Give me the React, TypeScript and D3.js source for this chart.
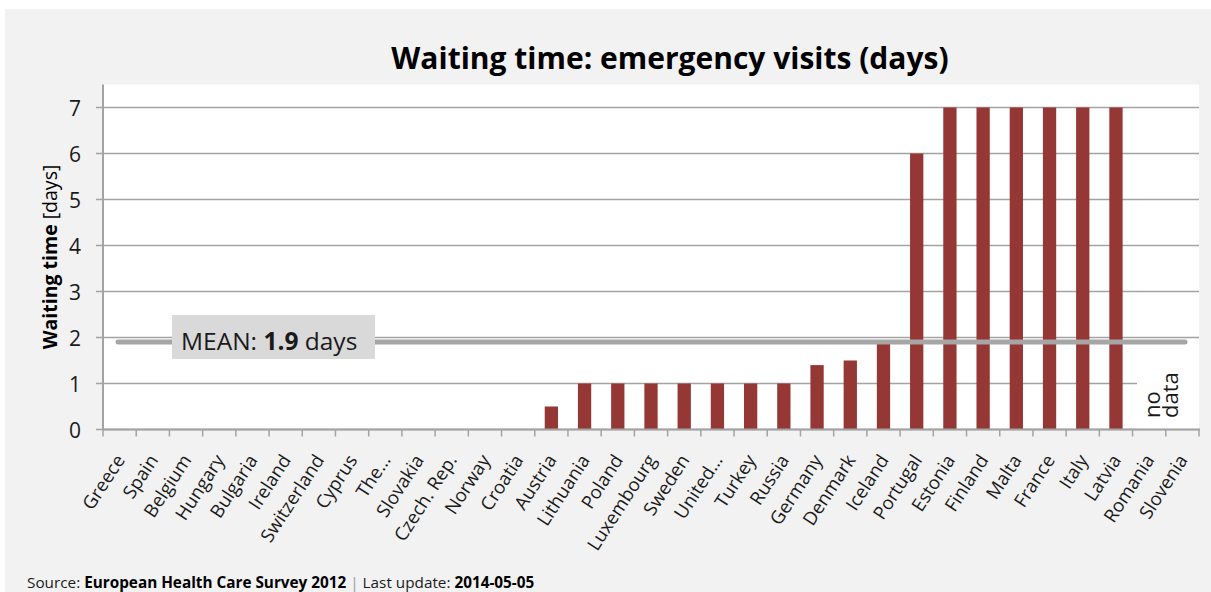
import React from "react";
import * as d3 from "d3";

const countries = [
  "Greece", "Spain", "Belgium", "Hungary", "Bulgaria", "Ireland", "Switzerland",
  "Cyprus", "The…", "Slovakia", "Czech. Rep.", "Norway", "Croatia", "Austria",
  "Lithuania", "Poland", "Luxembourg", "Sweden", "United…", "Turkey", "Russia",
  "Germany", "Denmark", "Iceland", "Portugal", "Estonia", "Finland", "Malta",
  "France", "Italy", "Latvia", "Romania", "Slovenia",
];

// waiting time in days; null = no data
const waitingDays: (number | null)[] = [
  0, 0, 0, 0, 0, 0, 0,
  0, 0, 0, 0, 0, 0, 0.5,
  1, 1, 1, 1, 1, 1, 1,
  1.4, 1.5, 1.9, 6, 7, 7, 7,
  7, 7, 7, null, null,
];

const yTicks = [0, 1, 2, 3, 4, 5, 6, 7];
const meanDays = 1.9;

const W = 1211;
const H = 592;
const plot = { left: 103, right: 1199, top: 84.5, bottom: 429.5 };
const FONT = "'Open Sans', 'Noto Sans', sans-serif";
const BAR = "#953735";
const GRID = "#a3a3a3";

export default function App() {
  const x = d3
    .scaleBand<string>()
    .domain(countries)
    .range([plot.left, plot.right])
    .paddingInner(0.6)
    .paddingOuter(0.3);
  const y = d3.scaleLinear().domain([0, 7.5]).range([plot.bottom, plot.top]);
  const step = x.step();
  const boundaries = d3.range(countries.length + 1).map((k) => plot.left + k * step);

  const meanY = y(meanDays);

  return (
    <svg
      width={W}
      height={H}
      style={{ position: "absolute", left: 0, top: 0, fontFamily: FONT }}
    >
      <rect x={0} y={0} width={W} height={H} fill="#ffffff" />
      <rect x={5} y={9} width={W - 5} height={H - 9} fill="#f2f2f2" />
      <rect
        x={plot.left}
        y={plot.top}
        width={plot.right - plot.left}
        height={plot.bottom - plot.top}
        fill="#ffffff"
      />

      {/* title */}
      <text x={670} y={69} textAnchor="middle" fontSize={30} fontWeight={700} fill="#000">
        Waiting time: emergency visits (days)
      </text>

      {/* horizontal gridlines + y ticks */}
      {yTicks.map((t) => (
        <g key={t}>
          <line x1={96} x2={plot.right} y1={y(t)} y2={y(t)} stroke={GRID} strokeWidth={1.5} />
          <text
            x={81}
            y={y(t)}
            textAnchor="end"
            dominantBaseline="central"
            fontSize={21}
            fill="#1a1a1a"
          >
            {t}
          </text>
        </g>
      ))}

      {/* y axis title */}
      <text
        transform={`translate(57, 257) rotate(-90)`}
        textAnchor="middle"
        fontSize={19.5}
        fill="#000"
      >
        <tspan fontWeight={700}>Waiting time</tspan>
        <tspan> [days]</tspan>
      </text>

      {/* bars */}
      {countries.map((c, i) => {
        const v = waitingDays[i];
        if (v == null || v <= 0) return null;
        return (
          <rect
            key={c}
            x={x(c)}
            y={y(v)}
            width={x.bandwidth()}
            height={y(0) - y(v)}
            fill={BAR}
          />
        );
      })}

      {/* "no data" box */}
      <rect x={1137} y={344} width={plot.right - 1137} height={plot.bottom - 345} fill="#ffffff" />
      <text transform="translate(1160, 418) rotate(-90)" fontSize={22} fill="#1a1a1a">
        no
      </text>
      <text transform="translate(1178, 418) rotate(-90)" fontSize={22} fill="#1a1a1a">
        data
      </text>

      {/* axes */}
      <line x1={plot.left} x2={plot.left} y1={plot.top} y2={plot.bottom} stroke={GRID} strokeWidth={2} />
      <line x1={plot.left} x2={plot.right + 1} y1={plot.bottom} y2={plot.bottom} stroke={GRID} strokeWidth={2} />
      {boundaries.map((bx, k) => (
        <line key={k} x1={bx} x2={bx} y1={plot.bottom} y2={plot.bottom + 7} stroke={GRID} strokeWidth={1.5} />
      ))}

      {/* category labels */}
      {countries.map((c) => {
        const cx = (x(c) as number) + x.bandwidth() / 2;
        return (
          <text
            key={c}
            transform={`translate(${cx + 6}, 460) rotate(-57)`}
            textAnchor="end"
            fontSize={18.5}
            fill="#1a1a1a"
          >
            {c}
          </text>
        );
      })}

      {/* mean line */}
      <line
        x1={118}
        x2={1185}
        y1={meanY}
        y2={meanY}
        stroke="#a6a6a6"
        strokeWidth={5}
        strokeLinecap="round"
      />
      <rect x={172} y={315} width={203} height={44} fill="#d9d9d9" />
      <text x={181} y={350} fontSize={24.5} fill="#1a1a1a">
        MEAN: <tspan fontWeight={700}>{meanDays}</tspan> days
      </text>

      {/* source line */}
      <text x={27} y={588} fontSize={15.3} fill="#1a1a1a">
        Source: <tspan fontWeight={700} fill="#000">European Health Care Survey 2012</tspan>
        <tspan fill="#a0a0a0"> | </tspan>
        Last update: <tspan fontWeight={700} fill="#000">2014-05-05</tspan>
      </text>
    </svg>
  );
}
